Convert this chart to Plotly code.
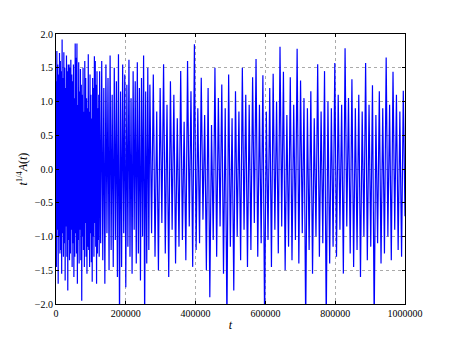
import numpy as np
import plotly.graph_objects as go

# sampling grid: dense early part, then coarser parts (as in the reference)
T_MAX = 1000000
STEP_A, END_A = 1250, 125000
STEP_B, END_B = 3000, 269000

vals_a = [
    1.30,-1.45,1.75,-0.90,1.55,-1.70,1.40,-1.00,1.72,-1.25,1.60,-1.20,1.45,-1.55,1.92,-0.95,1.35,-1.30,1.73,-1.10,
    1.50,-1.65,1.20,-0.85,1.68,-1.30,1.45,-1.80,1.55,-1.05,1.55,-1.35,1.50,-1.25,1.62,-0.90,1.40,-1.45,1.30,-1.10,
    1.55,-1.60,1.05,-1.30,1.86,-0.95,1.65,-1.25,1.86,-1.70,0.95,-1.05,1.58,-1.40,1.15,-0.90,1.48,-1.35,1.25,-1.95,
    1.10,-1.00,1.50,-1.20,0.85,-1.45,1.60,-0.80,1.35,-1.30,1.05,-1.55,0.90,-1.15,1.70,-1.20,0.85,-1.45,1.40,-0.95,
    1.10,-1.38,0.75,-1.67,1.35,-1.00,1.20,-1.30,1.67,-0.80,1.60,-1.15,1.25,-1.70,1.45,-1.25,0.90,-1.05,1.10,-1.30,
]
vals_b = [
    1.45,-1.10,1.60,-1.35,1.20,-1.70,1.55,-0.95,1.35,-1.50,
    1.68,-1.20,1.10,-1.45,1.50,-1.05,1.30,-1.60,1.70,-2.30,
    1.15,-1.45,1.55,-0.95,1.40,-1.75,1.25,-1.15,1.62,-1.30,
    1.05,-1.55,1.45,-0.90,1.30,-1.40,1.58,-1.25,1.20,-1.65,
    1.35,-1.00,1.68,-2.30,1.15,-1.40,1.50,-1.20,
]
vals_c = [
    1.25,-0.95,1.40,-1.30,0.85,-1.50,1.20,-0.80,1.55,-1.25,
    0.95,-1.60,1.30,-0.90,1.10,-1.40,0.75,-1.15,1.45,-1.05,
    0.70,-1.35,1.60,-0.85,1.15,-1.45,1.85,-1.20,0.90,-1.10,
    1.35,-0.75,0.80,-1.50,1.20,-1.90,0.65,-1.05,1.50,-1.30,
    1.05,-0.85,1.25,-1.55,0.90,-2.30,1.40,-1.15,0.75,-1.80,
    1.15,-1.00,0.85,-1.35,1.50,-0.90,1.10,-1.45,0.95,-1.20,
    1.36,-0.80,1.63,-1.30,0.95,-1.10,1.39,-2.30,0.85,-1.05,
    1.20,-1.45,1.41,-0.90,1.00,-1.25,1.81,-0.85,1.44,-1.50,
    0.80,-1.15,1.36,-1.35,0.95,-1.05,1.78,-1.40,1.31,-0.95,
    1.05,-2.30,0.90,-1.20,1.15,-1.55,0.75,-1.00,1.55,-1.30,
    0.85,-1.10,1.45,-2.30,1.00,-1.40,0.90,-1.15,1.57,-1.30,
    1.10,-0.90,0.95,-1.55,1.79,-0.85,1.05,-1.25,1.33,-1.45,
    0.90,-1.20,1.10,-1.60,0.85,-1.00,1.57,-1.35,0.95,-1.15,
    1.24,-2.30,0.80,-1.10,1.15,-1.40,0.90,-1.25,1.65,-1.00,
    0.95,-1.35,1.44,-0.90,1.10,-1.20,0.85,-1.30,1.16,-0.70,
]

t = np.concatenate([
    np.arange(len(vals_a)) * STEP_A,
    END_A + np.arange(len(vals_b)) * STEP_B,
    END_B + (T_MAX - END_B) * np.arange(len(vals_c)) / (len(vals_c) - 1),
])
vals = vals_a + vals_b + vals_c

x_ticks = [0, 200000, 400000, 600000, 800000, 1000000]
y_ticks = [-2.0, -1.5, -1.0, -0.5, 0.0, 0.5, 1.0, 1.5, 2.0]

fig = go.Figure(go.Scatter(x=t, y=vals, mode="lines",
                           line=dict(color="#0000ff", width=1.2)))

FAM = "Liberation Serif, DejaVu Serif, serif"
font = dict(family=FAM, size=10, color="black")
axis_common = dict(showline=True, linecolor="black", linewidth=1, mirror="allticks",
                   ticks="inside", ticklen=3, tickcolor="black",
                   showgrid=True, gridcolor="#aaaaaa", griddash="dot", gridwidth=0.8,
                   zeroline=False, tickfont=font, automargin=False)
fig.update_layout(
    width=450, height=338,
    margin=dict(l=56, r=45, t=34, b=34),
    paper_bgcolor="white", plot_bgcolor="white",
    showlegend=False,
    font=font,
    xaxis=dict(range=[0, T_MAX], tickvals=x_ticks, ticktext=[str(v) for v in x_ticks],
               title=dict(text="<i>t</i>", font=dict(family=FAM, size=12), standoff=2),
               **axis_common),
    yaxis=dict(range=[-2, 2], tickvals=y_ticks, tickformat=".1f",
               title=dict(text="<i>t</i><sup>1/4</sup><i>A</i>(<i>t</i>)",
                          font=dict(family=FAM, size=12), standoff=4),
               **axis_common),
)
fig.write_html("out.html", config={"displayModeBar": False},
               post_script="document.body.style.margin='0';document.body.style.overflow='hidden';")
